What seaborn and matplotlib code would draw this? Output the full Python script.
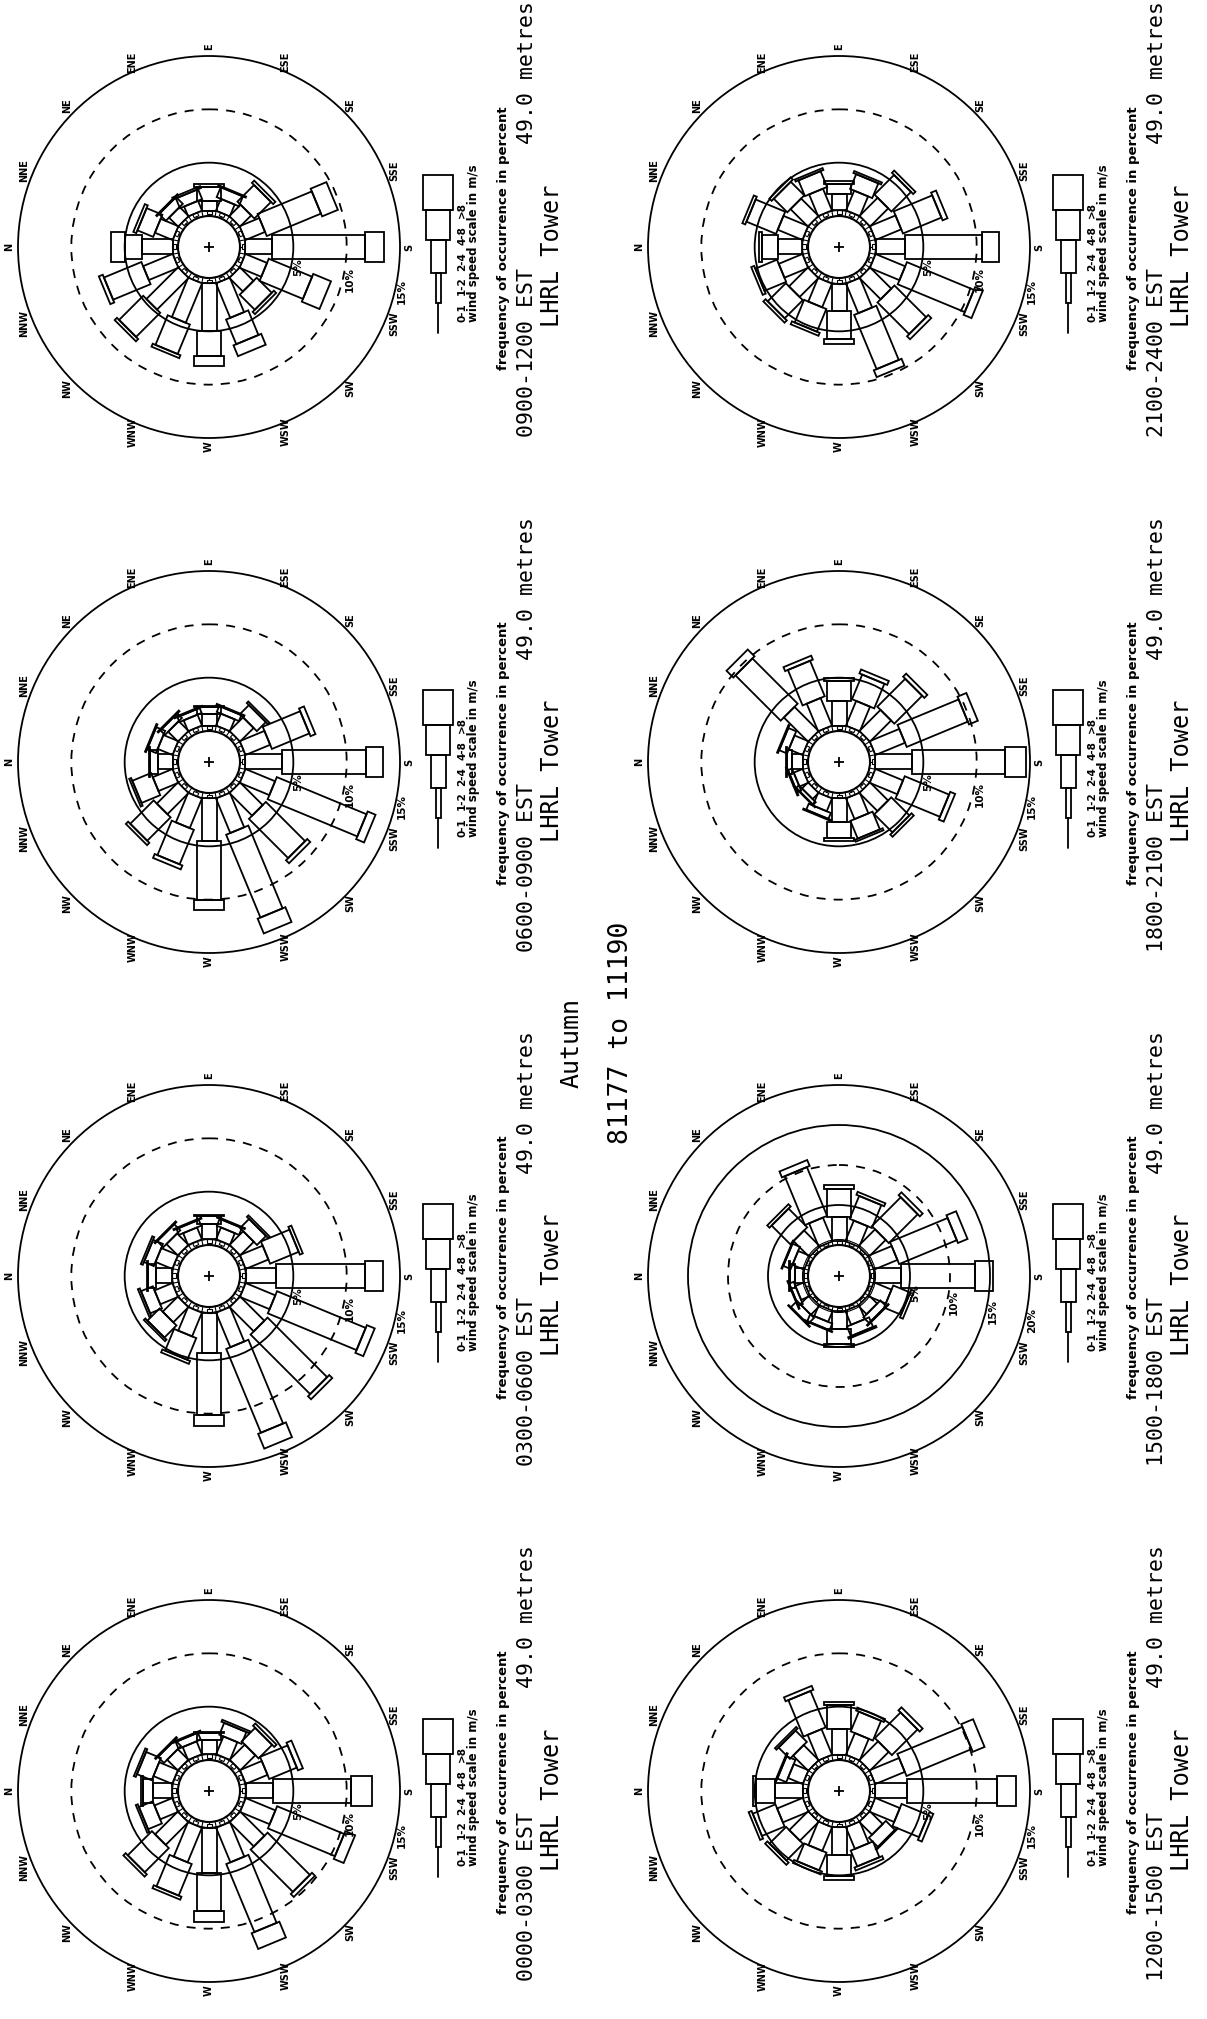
import numpy as np
import pandas as pd
import matplotlib
matplotlib.use("Agg")
import matplotlib.pyplot as plt
from matplotlib.patches import Polygon, Circle
import seaborn as sns

sns.set_theme(style="white")
plt.rcParams['font.family'] = ['DejaVu Sans']

# ---------------- data ----------------
DIRECTIONS = ["N", "NNE", "NE", "ENE", "E", "ESE", "SE", "SSE",
              "S", "SSW", "SW", "WSW", "W", "WNW", "NW", "NNW"]
PERIODS = ["0000-0300", "0300-0600", "0600-0900", "0900-1200",
           "1200-1500", "1500-1800", "1800-2100", "2100-2400"]
SPEED_CLASSES = ["0-1", "1-2", "2-4", "4-8", ">8"]
SCALE_MAX = [15, 15, 15, 15, 15, 20, 15, 15]      # outer ring (percent)
HEIGHT_LABEL = "49.0 metres"
SITE = "LHRL Tower"
SEASON = "Autumn"
DATE_RANGE = "81177 to 11190"

# frequency of occurrence (percent) per direction, one list per period
FREQ_0_1 = [0.18, 0.18, 0.17, 0.16, 0.15, 0.14, 0.16, 0.17]   # mean per direction
FREQ_1_2 = [0.36, 0.35, 0.34, 0.33, 0.33, 0.30, 0.34, 0.35]   # mean per direction
FREQ_2_4 = [
    [1.8, 1.9, 1.4, 1.3, 1.3, 1.8, 2.0, 2.2, 2.6, 3.0, 3.2, 3.5, 4.2, 3.5, 3.0, 1.8],
    [1.5, 1.7, 1.5, 1.2, 1.4, 1.2, 1.8, 2.3, 2.8, 3.0, 3.2, 3.5, 3.8, 2.4, 2.0, 1.8],
    [1.4, 1.5, 1.3, 1.1, 1.1, 1.2, 1.8, 2.5, 3.4, 3.0, 3.0, 3.5, 4.0, 3.0, 2.8, 2.0],
    [2.9, 1.8, 1.2, 1.0, 0.9, 1.2, 1.5, 2.0, 2.5, 2.2, 1.8, 3.5, 4.5, 4.0, 4.2, 3.0],
    [2.6, 1.5, 2.0, 2.6, 2.4, 2.2, 2.5, 3.0, 3.0, 2.5, 1.7, 2.2, 2.6, 2.4, 2.5, 2.6],
    [1.2, 1.6, 2.8, 3.2, 3.0, 2.8, 3.0, 3.2, 3.4, 2.4, 1.5, 1.9, 2.3, 1.5, 1.6, 1.2],
    [1.0, 1.4, 3.2, 2.8, 2.3, 2.5, 2.8, 3.0, 3.4, 2.8, 2.4, 2.1, 2.2, 1.3, 0.8, 0.9],
    [2.3, 2.5, 2.3, 2.2, 1.5, 2.0, 2.4, 2.6, 2.8, 3.0, 2.8, 3.0, 2.6, 2.4, 2.5, 2.4],
]
FREQ_4_8 = [
    [0.9, 1.5, 0.8, 0.7, 0.7, 1.2, 1.8, 2.8, 7.3, 6.8, 5.6, 6.9, 3.6, 3.2, 3.2, 1.4],
    [0.8, 1.0, 0.8, 0.6, 0.8, 0.7, 1.2, 2.9, 8.4, 9.0, 7.9, 8.5, 5.8, 2.2, 1.6, 1.2],
    [0.7, 0.9, 0.6, 0.5, 0.6, 0.6, 1.2, 3.8, 7.9, 9.1, 5.2, 8.4, 5.5, 3.5, 3.1, 1.9],
    [1.6, 1.6, 0.9, 1.0, 1.3, 1.0, 2.2, 5.5, 8.7, 4.4, 2.0, 2.5, 2.3, 3.0, 3.2, 3.8],
    [1.8, 0.9, 1.5, 3.7, 2.3, 2.0, 3.4, 6.6, 8.4, 2.7, 1.2, 1.6, 2.0, 1.8, 2.2, 2.3],
    [0.6, 1.0, 3.3, 6.6, 3.6, 3.1, 5.1, 7.8, 9.3, 2.3, 1.0, 1.3, 1.9, 0.9, 1.1, 0.6],
    [0.5, 0.8, 6.0, 3.6, 1.9, 2.5, 3.7, 6.2, 8.8, 4.5, 2.4, 1.8, 1.5, 0.6, 0.35, 0.4],
    [1.5, 3.0, 1.8, 1.6, 1.0, 1.5, 2.6, 3.9, 7.2, 6.8, 4.2, 5.5, 2.6, 2.3, 2.4, 2.2],
]
FREQ_GT8 = [
    [0.2, 0.2, 0.1, 0.1, 0.1, 0.2, 0.3, 0.5, 1.9, 1.0, 0.4, 1.6, 1.0, 0.3, 0.3, 0.2],
    [0.1, 0.2, 0.1, 0.1, 0.1, 0.1, 0.2, 0.3, 1.7, 0.8, 0.4, 1.5, 1.0, 0.3, 0.2, 0.2],
    [0.1, 0.1, 0.1, 0.1, 0.1, 0.1, 0.2, 0.5, 1.6, 0.8, 0.4, 1.5, 1.0, 0.4, 0.3, 0.2],
    [1.3, 0.3, 0.1, 0.2, 0.3, 0.1, 0.3, 1.6, 1.8, 1.8, 0.3, 1.1, 1.0, 0.3, 0.3, 0.4],
    [0.3, 0.1, 0.2, 0.4, 0.3, 0.3, 0.4, 1.2, 1.8, 0.4, 0.1, 0.3, 0.4, 0.3, 0.3, 0.3],
    [0.1, 0.1, 0.4, 0.8, 0.4, 0.4, 0.5, 1.3, 2.2, 0.4, 0.1, 0.2, 0.4, 0.1, 0.1, 0.1],
    [0.1, 0.1, 0.9, 0.4, 0.3, 0.4, 0.4, 0.9, 1.9, 0.5, 0.3, 0.2, 0.3, 0.1, 0.05, 0.1],
    [0.3, 0.3, 0.3, 0.2, 0.3, 0.2, 0.3, 0.5, 1.6, 0.8, 0.4, 0.7, 0.5, 0.3, 0.3, 0.3],
]

# ---------------- geometry / style ----------------
W_PX, H_PX = 1207, 2019
COL_X = [209, 839]
ROW_Y = [247, 762, 1276, 1791]
R_CALM = 31.0
R_OUTER = 191.0
RING_GAP = 5.5
BAR_WIDTHS = [0, 5, 15, 24, 30]     # 0-1 drawn as a line
LW = 1.3
LW_THIN = 0.8

fig = plt.figure(figsize=(W_PX / 100, H_PX / 100), dpi=100)
ax = fig.add_axes([0, 0, 1, 1])
ax.set_xlim(0, W_PX)
ax.set_ylim(H_PX, 0)
ax.set_aspect('equal')
ax.axis('off')

def unit(theta):
    # display is the landscape page turned a quarter-turn: N to the left, E up
    return np.array([-np.cos(theta), -np.sin(theta)]), np.array([np.sin(theta), -np.cos(theta)])

def seg(c, theta, ra, rb, w, lw):
    u, v = unit(theta)
    pts = [c + u * ra + v * w / 2, c + u * rb + v * w / 2,
           c + u * rb - v * w / 2, c + u * ra - v * w / 2]
    ax.add_patch(Polygon(pts, closed=True, fill=False, edgecolor='black', lw=lw))

centers = []
for i, period in enumerate(PERIODS):
    col = i // 4
    row = 3 - (i % 4)
    cx, cy = COL_X[col], ROW_Y[row]
    c = np.array([cx, cy], dtype=float)
    centers.append((cx, cy))
    smax = SCALE_MAX[i]
    k = (R_OUTER - R_CALM) / smax

    # rings
    for p in range(5, smax + 1, 5):
        r = R_CALM + k * p
        ls = (0, (5, 4.5)) if p == 10 else '-'
        ax.add_patch(Circle((cx, cy), r, fill=False, edgecolor='black', lw=LW, linestyle=ls))
        ang = np.deg2rad(193)
        u, _ = unit(ang)
        pos = c + u * (r + 7)
        ax.text(pos[0], pos[1], f"{p}%", rotation=90, ha='center', va='center',
                fontsize=7.5, fontweight='bold', color='black')

    # compass labels
    for j, d in enumerate(DIRECTIONS):
        th = np.deg2rad(22.5 * j)
        u, _ = unit(th)
        pos = c + u * 200
        ax.text(pos[0], pos[1], d, rotation=90, ha='center', va='center',
                fontsize=7, fontweight='bold', color='black')

    # calm circle + ring
    ax.add_patch(Circle((cx, cy), R_CALM, fill=False, edgecolor='black', lw=LW + 0.2))
    ax.add_patch(Circle((cx, cy), R_CALM + RING_GAP, fill=False, edgecolor='black', lw=LW_THIN))
    for j in range(16):
        th = np.deg2rad(22.5 * j + 11.25)
        u, _ = unit(th)
        p1, p2 = c + u * R_CALM, c + u * (R_CALM + RING_GAP)
        ax.plot([p1[0], p2[0]], [p1[1], p2[1]], color='black', lw=LW_THIN)

    # bars
    for j in range(16):
        th = np.deg2rad(22.5 * j)
        u, _ = unit(th)
        freqs = [FREQ_0_1[i], FREQ_1_2[i], FREQ_2_4[i][j], FREQ_4_8[i][j], FREQ_GT8[i][j]]
        r = R_CALM
        for s, f in enumerate(freqs):
            rn = r + f * k
            if BAR_WIDTHS[s] == 0:
                p1, p2 = c + u * r, c + u * rn
                ax.plot([p1[0], p2[0]], [p1[1], p2[1]], color='black', lw=LW_THIN)
            else:
                seg(c, th, r, rn, BAR_WIDTHS[s], LW_THIN if s == 1 else LW)
            r = rn

    # legend (wind speed scale)
    lx = cx + 229
    ys = [cy + 86, cy + 56, cy + 26, cy - 7, cy - 37, cy - 72]
    lab_y = [cy + 66, cy + 39, cy + 15, cy - 11, cy - 37]
    for s, cls in enumerate(SPEED_CLASSES):
        y0, y1 = ys[s], ys[s + 1]
        w = BAR_WIDTHS[s]
        if w == 0:
            ax.plot([lx, lx], [y0, y1], color='black', lw=LW)
        else:
            ax.add_patch(Polygon([(lx - w / 2, y0), (lx + w / 2, y0), (lx + w / 2, y1), (lx - w / 2, y1)],
                                 closed=True, fill=False, edgecolor='black', lw=LW))
        ax.text(cx + 253, lab_y[s], cls, rotation=90, ha='center', va='center',
                fontsize=7.5, fontweight='bold', color='black')
    ax.text(cx + 264, cy + 75, "wind speed scale in m/s", rotation=90, ha='center', va='bottom',
            fontsize=8.5, fontweight='bold', color='black')
    ax.text(cx + 294, cy + 123, "frequency of occurrence in percent", rotation=90, ha='center',
            va='bottom', fontsize=9.5, fontweight='bold', color='black')
    ax.text(cx + 318, cy + 190, f"{period} EST", rotation=90, ha='center', va='bottom',
            fontsize=15.5, family='DejaVu Sans Mono', color='black')
    ax.text(cx + 318, cy - 174, HEIGHT_LABEL, rotation=90, ha='center', va='center',
            fontsize=15.5, family='DejaVu Sans Mono', color='black')
    ax.text(cx + 343, cy + 80, SITE, rotation=90, ha='center', va='bottom',
            fontsize=17, family='DejaVu Sans Mono', color='black')

# centre crosses
cdf = pd.DataFrame(centers, columns=['x', 'y'])
sns.scatterplot(data=cdf, x='x', y='y', marker='+', s=60, color='black',
                linewidth=1.3, ax=ax, legend=False)

ax.text(572, 1043, SEASON, rotation=90, ha='center', va='center',
        fontsize=18, family='DejaVu Sans Mono', color='black')
ax.text(621, 1033, DATE_RANGE, rotation=90, ha='center', va='center',
        fontsize=19, family='DejaVu Sans Mono', color='black')

ax.set_xlim(0, W_PX)
ax.set_ylim(H_PX, 0)
ax.axis('off')
fig.savefig("out.png", dpi=100, facecolor='white')
